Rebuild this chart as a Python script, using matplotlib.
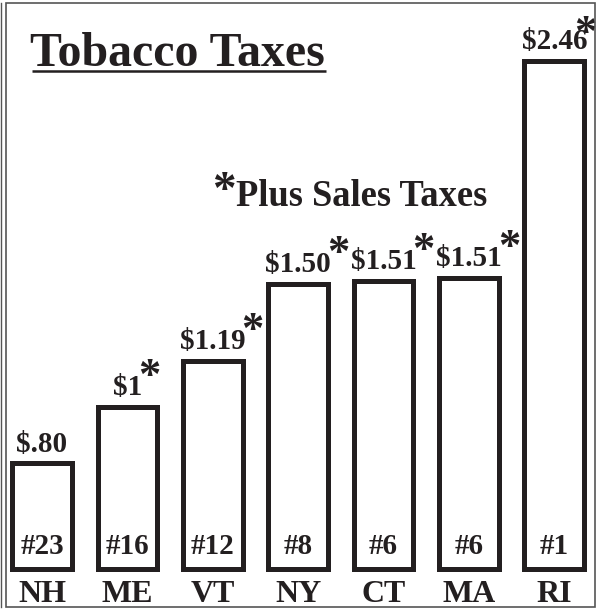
import matplotlib.pyplot as plt
from matplotlib.patches import Rectangle

states = ['NH', 'ME', 'VT', 'NY', 'CT', 'MA', 'RI']
tax_labels = ['$.80', '$1', '$1.19', '$1.50', '$1.51', '$1.51', '$2.46']
ranks = ['#23', '#16', '#12', '#8', '#6', '#6', '#1']
plus_sales = [False, True, True, True, True, True, True]
# bar heights as drawn in the picture (not to scale with the taxes)
bar_heights = [1.06, 1.625, 2.085, 2.855, 2.885, 2.915, 5.085]

plt.rcParams['font.family'] = ['Liberation Serif', 'DejaVu Serif']
plt.rcParams['font.weight'] = 'bold'

fig = plt.figure(figsize=(5.97, 6.09), dpi=100)
ax = fig.add_axes([0, 0, 1, 1])
ax.set_xlim(-0.492, 6.499)
ax.set_ylim(-0.40, 5.69)
ax.axis('off')

x = list(range(len(states)))
ax.bar(x, bar_heights, width=0.70, facecolor='white', edgecolor='#231f20', linewidth=3.6)

ink = '#231f20'
for i in x:
    lab = ax.text(i, bar_heights[i] + 0.115, tax_labels[i], ha='center', va='baseline',
                  fontsize=21, color=ink)
    if plus_sales[i]:
        # RI's star sits tight against the frame
        off = (-9, 3) if i == len(x) - 1 else (-3, 5)
        ax.annotate('*', xy=(1, bar_heights[i] + 0.115), xycoords=(lab, 'data'),
                    xytext=off, textcoords='offset points', ha='left', va='baseline',
                    fontsize=32, color=ink)
    ax.text(i, 0.15, ranks[i], ha='center', va='baseline', fontsize=21, color=ink)
    ax.text(i, -0.335, states[i], ha='center', va='baseline', fontsize=23, color=ink)

# title with underline
ax.text(-0.135, 5.035, 'Tobacco Taxes', ha='left', va='baseline', fontsize=34.5, color=ink)
ax.plot([-0.117, 3.328], [4.98, 4.98], color=ink, linewidth=1.8, solid_capstyle='butt')

# footnote
ax.text(2.273, 3.63, 'Plus Sales Taxes', ha='left', va='baseline', fontsize=26.3, color=ink)
ax.text(2.27, 3.66, '*', ha='right', va='baseline', fontsize=34, color=ink)

# frame
fig.patches.append(Rectangle((6 / 597, 2 / 609), 589 / 597, 604 / 609, transform=fig.transFigure,
                             fill=False, edgecolor='#555555', linewidth=1.2))
fig.add_artist(plt.Line2D([1 / 597, 1 / 597], [2 / 609, 606 / 609], transform=fig.transFigure,
                          color='#555555', linewidth=1.0))

fig.savefig('out.png', dpi=100, facecolor='white')
